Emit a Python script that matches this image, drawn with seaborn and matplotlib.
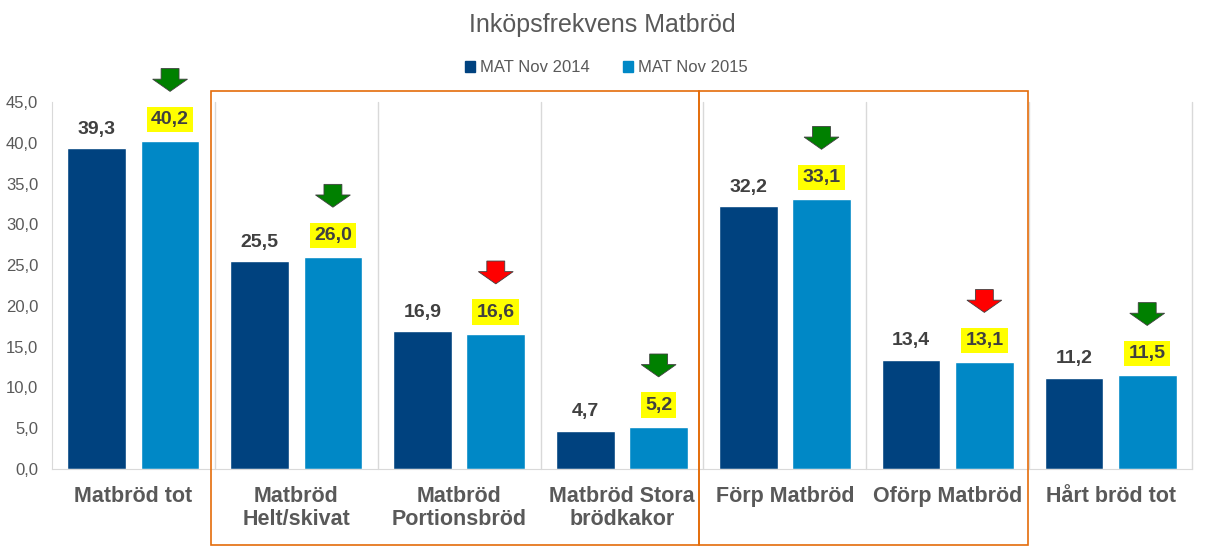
import numpy as np
import pandas as pd
import matplotlib.pyplot as plt
import seaborn as sns
from matplotlib.patches import Rectangle, Polygon

# data
categories = ['Matbröd tot', 'Matbröd\nHelt/skivat', 'Matbröd\nPortionsbröd',
              'Matbröd Stora\nbrödkakor', 'Förp Matbröd', 'Oförp Matbröd', 'Hårt bröd tot']
mat_2014 = [39.3, 25.5, 16.9, 4.7, 32.2, 13.4, 11.2]
mat_2015 = [40.2, 26.0, 16.6, 5.2, 33.1, 13.1, 11.5]
series = ['MAT Nov 2014', 'MAT Nov 2015']
trend = ['down_green', 'down_green', 'down_red', 'down_green', 'down_green', 'down_red', 'down_green']
yticks = [0, 5, 10, 15, 20, 25, 30, 35, 40, 45]

df = pd.DataFrame({
    'kategori': categories * 2,
    'serie': [series[0]] * 7 + [series[1]] * 7,
    'varde': mat_2014 + mat_2015,
})

sns.set_style('white')
plt.rcParams['font.family'] = ['Liberation Sans', 'DejaVu Sans']

colors = {'MAT Nov 2014': '#00427f', 'MAT Nov 2015': '#0088c6'}
txt_gray = '#595959'
lbl_gray = '#404040'

fig = plt.figure(figsize=(12.05, 5.58), dpi=100)
ax = fig.add_axes([52 / 1205, 1 - 469 / 558, (1192 - 52) / 1205, (469 - 102) / 558])

sns.barplot(data=df, x='kategori', y='varde', hue='serie', palette=colors,
            width=0.9, gap=0.2, saturation=1, ax=ax, legend=False)

ax.set_xlim(-0.5, 6.5)
ax.set_ylim(0, 45)
ax.set_yticks(yticks)
ax.set_yticklabels([f'{v:.1f}'.replace('.', ',') for v in yticks], color=txt_gray, fontsize=12)
ax.set_xticks(range(7))
ax.set_xticklabels(categories, color=txt_gray, fontsize=15.5, fontweight='bold', linespacing=1.15)
ax.tick_params(axis='both', length=0)
ax.tick_params(axis='x', pad=12)
ax.tick_params(axis='y', pad=10)
ax.set_xlabel('')
ax.set_ylabel('')
for s in ['top', 'right']:
    ax.spines[s].set_visible(False)
ax.spines['left'].set_color('#d9d9d9')
ax.spines['bottom'].set_color('#d9d9d9')
for b in np.arange(0.5, 7, 1):
    ax.axvline(b, color='#d9d9d9', lw=1, zorder=0, clip_on=False)

# value labels
off = 0.225
for i in range(7):
    ax.annotate(f'{mat_2014[i]:.1f}'.replace('.', ','), (i - off, mat_2014[i]),
                xytext=(0, 13.5), textcoords='offset points', ha='center', va='center',
                fontsize=14, fontweight='bold', color=lbl_gray)
    ax.annotate(f'{mat_2015[i]:.1f}'.replace('.', ','), (i + off, mat_2015[i]),
                xytext=(0, 15.5), textcoords='offset points', ha='center', va='center',
                fontsize=14, fontweight='bold', color=lbl_gray,
                bbox=dict(boxstyle='square,pad=0.22', fc='#ffff00', ec='none'))
    # trend arrow above the 2015 bar
    col = '#008000' if trend[i] == 'down_green' else '#ff0000'
    cx = i + off
    tip = mat_2015[i] + 6.1
    top = mat_2015[i] + 8.9
    hw, sw = 0.107, 0.055
    neck = tip + 1.5
    pts = [(cx - sw, top), (cx + sw, top), (cx + sw, neck), (cx + hw, neck),
           (cx, tip), (cx - hw, neck), (cx - sw, neck)]
    ax.add_patch(Polygon(pts, closed=True, fc=col, ec='#404040', lw=0.6, clip_on=False, zorder=5))

# orange group boxes
for x0, x1 in [(211, 699), (699, 1028)]:
    fig.add_artist(Rectangle((x0 / 1205, 1 - 545 / 558), (x1 - x0) / 1205, (545 - 91) / 558,
                             transform=fig.transFigure, fill=False, ec='#e46c0a', lw=1.2))

# legend
handles = [Rectangle((0, 0), 1, 1, color=colors[s]) for s in series]
fig.legend(handles, series, loc='center', bbox_to_anchor=(0.503, 1 - 68 / 558), ncol=2,
           frameon=False, fontsize=12, labelcolor=txt_gray, handlelength=0.6,
           handleheight=0.6, handletextpad=0.3, columnspacing=2.0)

fig.text(0.5, 1 - 25 / 558, 'Inköpsfrekvens Matbröd', ha='center', va='center',
         fontsize=18, color=txt_gray)

fig.savefig('out.png', dpi=100)
